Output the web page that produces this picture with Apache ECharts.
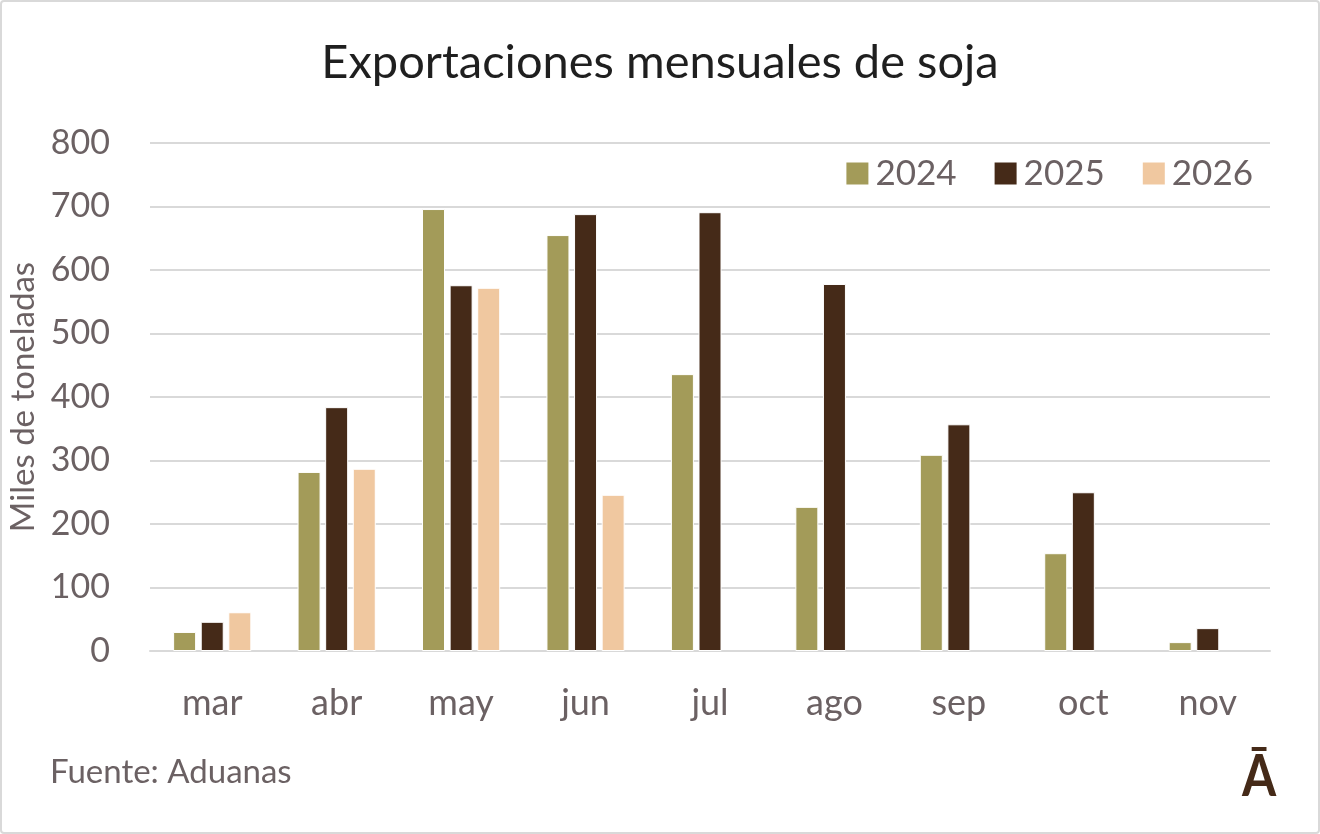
<!DOCTYPE html>
<html><head><meta charset="utf-8">
<script src="https://cdn.jsdelivr.net/npm/echarts@6/dist/echarts.min.js"></script>
<style>
html,body{margin:0;padding:0;background:#fff;}
#c{position:absolute;left:0;top:0;width:1316px;height:830px;border:2px solid #D9D9D9;border-radius:4px;}
</style></head><body>
<div id="c"></div>
<script>
const categories = ['mar','abr','may','jun','jul','ago','sep','oct','nov'];
const s2024 = [30, 282, 696, 655, 436, 227, 309, 154, 14];
const s2025 = [46, 384, 576, 688, 691, 578, 357, 250, 36];
const s2026 = [61, 287, 572, 246, null, null, null, null, null];
const seriesNames = ['2024','2025','2026'];
const colors = ['#A39B59','#452A18','#F0C8A0'];
const txt = '#6B6163';
const font = 'Lato';
const chart = echarts.init(document.getElementById('c'));
const mk = (name, data, i) => ({
  name, type:'bar', data, barWidth:23, barGap:'20%',
  itemStyle:{color:colors[i], borderColor:'#fff', borderWidth:1}
});
chart.setOption({
  animation:false,
  textStyle:{fontFamily:font},
  title:{text:'Exportaciones mensuales de soja', left:'center', top:32,
    textStyle:{fontFamily:font, fontSize:47, fontWeight:'normal', color:'#1f1f1f'}},
  legend:{right:60, top:149, itemWidth:22, itemGap:38, itemHeight:22,
    textStyle:{fontFamily:font, fontSize:35, color:txt, padding:[0,0,0,2]},
    data:seriesNames.map((n,i)=>({name:n, icon:'rect', itemStyle:{color:colors[i], borderWidth:0}}))},
  grid:{left:148, right:48, top:141, bottom:181, containLabel:false, outerBoundsMode:'none'},
  xAxis:{type:'category', data:categories,
    axisLine:{lineStyle:{color:'#D9D9D9', width:2}}, axisTick:{show:false},
    axisLabel:{fontFamily:font, fontSize:36, color:txt, margin:34}},
  yAxis:{type:'value', min:0, max:800, interval:100,
    name:'Miles de toneladas', nameLocation:'middle', nameGap:90,
    nameTextStyle:{fontFamily:font, fontSize:33, color:txt},
    axisLine:{show:false}, axisTick:{show:false},
    splitLine:{lineStyle:{color:'#D9D9D9', width:2}},
    axisLabel:{fontFamily:font, fontSize:34, color:txt, margin:40}},
  graphic:[
    {type:'text', left:48, top:754, style:{text:'Fuente: Aduanas', fontFamily:font, fontSize:33, fill:txt}},
    {type:'text', x:1240, y:746, scaleX:0.85, style:{text:'Ā', fontFamily:font, fontSize:58, fontWeight:'bold', fill:'#452A18'}}
  ],
  series:[mk('2024',s2024,0), mk('2025',s2025,1), mk('2026',s2026,2)]
});
</script>
</body></html>
